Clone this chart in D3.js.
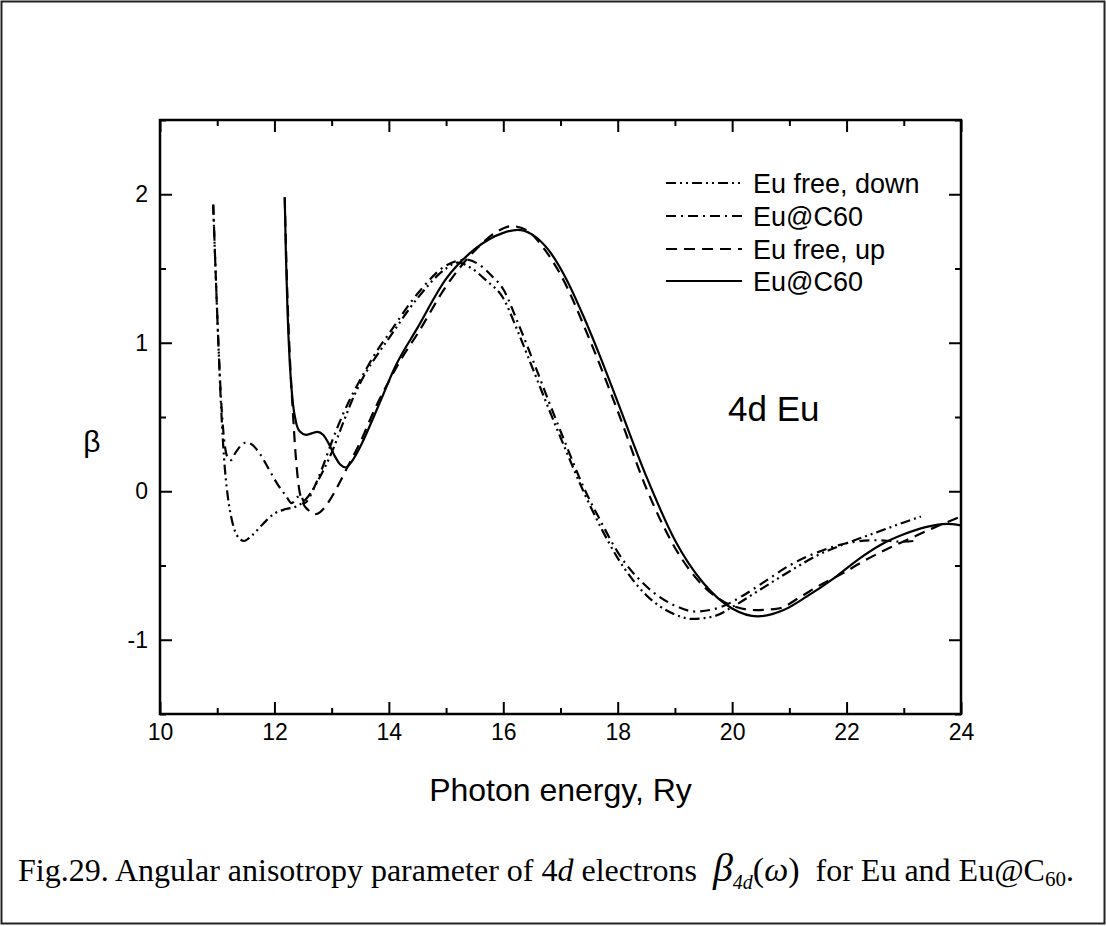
<!DOCTYPE html>
<html><head><meta charset="utf-8">
<script src="https://cdn.jsdelivr.net/npm/d3@7"></script>
<style>body{margin:0;background:#fff} svg{display:block}</style>
</head><body><svg id="c" width="1106" height="926"></svg>
<script>
// ---------- data ----------
const xMajorTicks = [10, 12, 14, 16, 18, 20, 22, 24];
const xMinorTicks = [11, 13, 15, 17, 19, 21, 23];
const yMajorTicks = [-1, 0, 1, 2];
const yMinorTicks = [-1.5, -0.5, 0.5, 1.5, 2.5];
const seriesNames = ["Eu free, down", "Eu@C60", "Eu free, up", "Eu@C60"];

// Eu free, down (dash-dot-dot)
const euFreeDown = [[10.93,1.93],[10.97,1.5],[11.02,1.0],[11.07,0.55],[11.12,0.22],[11.18,-0.02],[11.26,-0.2],[11.35,-0.3],[11.47,-0.335],[11.6,-0.3],[11.8,-0.22],[12.0,-0.15],[12.2,-0.12],[12.4,-0.1],[12.6,-0.03],[12.8,0.1],[13.0,0.26],[13.2,0.46],[13.4,0.65],[13.6,0.8],[13.8,0.92],[14.0,1.03],[14.5,1.3],[15.0,1.5],[15.2,1.54],[15.45,1.5],[15.7,1.42],[16.0,1.3],[16.25,1.08],[16.5,0.84],[16.8,0.55],[17.1,0.27],[17.4,0.0],[17.7,-0.24],[18.0,-0.45],[18.5,-0.7],[19.0,-0.83],[19.3,-0.86],[19.7,-0.84],[20.0,-0.78],[20.5,-0.66],[21.0,-0.54],[21.5,-0.43],[22.0,-0.35],[22.5,-0.28],[23.0,-0.21],[23.3,-0.17]];
// Eu@C60 (dash-dot)
const euC60a = [[10.93,1.93],[10.97,1.5],[11.02,1.0],[11.07,0.6],[11.12,0.35],[11.18,0.23],[11.24,0.21],[11.32,0.26],[11.42,0.31],[11.52,0.33],[11.62,0.31],[11.75,0.25],[11.9,0.15],[12.05,0.05],[12.2,-0.03],[12.3,-0.08],[12.4,-0.04],[12.46,-0.03],[12.53,-0.08],[12.6,-0.05],[12.7,0.03],[12.85,0.17],[13.0,0.33],[13.2,0.52],[13.4,0.68],[13.6,0.82],[13.8,0.95],[14.0,1.06],[14.5,1.33],[15.0,1.52],[15.35,1.56],[15.6,1.52],[15.8,1.45],[16.0,1.36],[16.25,1.14],[16.5,0.9],[16.8,0.6],[17.1,0.31],[17.4,0.03],[17.7,-0.2],[18.0,-0.41],[18.5,-0.64],[19.0,-0.77],[19.35,-0.81],[19.8,-0.78],[20.2,-0.7],[20.6,-0.6],[21.0,-0.5],[21.5,-0.41],[22.0,-0.35],[22.5,-0.33],[23.0,-0.34],[23.25,-0.33]];
// Eu free, up (dashed)
const euFreeUp = [[12.18,1.98],[12.22,1.4],[12.27,0.9],[12.32,0.55],[12.37,0.25],[12.43,0.02],[12.5,-0.08],[12.6,-0.13],[12.7,-0.155],[12.8,-0.14],[12.95,-0.07],[13.1,0.03],[13.3,0.18],[13.5,0.33],[13.75,0.55],[14.0,0.74],[14.2,0.88],[14.5,1.06],[15.0,1.38],[15.5,1.62],[15.9,1.75],[16.15,1.785],[16.4,1.76],[16.7,1.64],[17.0,1.46],[17.5,1.03],[18.0,0.54],[18.5,0.02],[19.0,-0.38],[19.5,-0.64],[20.0,-0.77],[20.4,-0.8],[20.8,-0.79],[21.2,-0.71],[21.5,-0.64],[21.9,-0.56],[22.3,-0.47],[22.7,-0.39],[23.1,-0.32],[23.5,-0.25],[24.0,-0.17]];
// Eu@C60 (solid)
const euC60b = [[12.18,1.98],[12.2,1.6],[12.23,1.2],[12.27,0.85],[12.32,0.6],[12.38,0.46],[12.45,0.4],[12.55,0.38],[12.65,0.39],[12.75,0.4],[12.85,0.38],[12.95,0.32],[13.05,0.24],[13.15,0.18],[13.25,0.16],[13.35,0.2],[13.5,0.3],[13.7,0.47],[13.9,0.65],[14.1,0.83],[14.5,1.1],[15.0,1.43],[15.5,1.63],[16.0,1.74],[16.25,1.76],[16.5,1.73],[16.8,1.62],[17.1,1.43],[17.4,1.18],[17.7,0.9],[18.0,0.6],[18.5,0.1],[19.0,-0.33],[19.5,-0.62],[20.0,-0.79],[20.45,-0.843],[20.9,-0.8],[21.3,-0.71],[21.8,-0.58],[22.2,-0.46],[22.6,-0.36],[23.0,-0.29],[23.4,-0.24],[23.75,-0.22],[24.0,-0.23]];

const seriesData = [euFreeDown, euC60a, euFreeUp, euC60b];
const seriesDash = ["10,4,2,4,2,4", "10,5,2,5", "11,7", null];

// ---------- drawing ----------
const svg = d3.select("#c");
const W = 1106, H = 926;
const L = 160, R = 961, T = 120, B = 714;
const x = d3.scaleLinear().domain([10, 24]).range([L, R]);
const y = d3.scaleLinear().domain([-1.5, 2.5]).range([B, T]);
const font = "'Liberation Sans', Arial, Helvetica, sans-serif";

svg.append("rect").attr("x", 1.5).attr("y", 1.5).attr("width", W - 3).attr("height", H - 4)
  .attr("fill", "none").attr("stroke", "#222").attr("stroke-width", 2);

function styleAxis(g, w) {
  g.select(".domain").remove();
  g.selectAll(".tick line").attr("stroke", "#000").attr("stroke-width", w);
  g.selectAll(".tick text").attr("fill", "#000").style("font-family", font).style("font-size", "23px");
}
const fmt = d => String(d);

// bottom
svg.append("g").attr("transform", `translate(0,${B})`)
  .call(d3.axisBottom(x).tickValues(xMajorTicks).tickSize(-12).tickPadding(10).tickFormat(fmt))
  .call(g => styleAxis(g, 2));
svg.append("g").attr("transform", `translate(0,${B})`)
  .call(d3.axisBottom(x).tickValues(xMinorTicks).tickSize(-6).tickFormat(""))
  .call(g => styleAxis(g, 2));
// top
svg.append("g").attr("transform", `translate(0,${T})`)
  .call(d3.axisTop(x).tickValues(xMajorTicks).tickSize(-12).tickFormat(""))
  .call(g => styleAxis(g, 2));
svg.append("g").attr("transform", `translate(0,${T})`)
  .call(d3.axisTop(x).tickValues(xMinorTicks).tickSize(-6).tickFormat(""))
  .call(g => styleAxis(g, 2));
// left
svg.append("g").attr("transform", `translate(${L},0)`)
  .call(d3.axisLeft(y).tickValues(yMajorTicks).tickSize(-12).tickPadding(12).tickFormat(fmt))
  .call(g => styleAxis(g, 2));
svg.append("g").attr("transform", `translate(${L},0)`)
  .call(d3.axisLeft(y).tickValues(yMinorTicks).tickSize(-6).tickFormat(""))
  .call(g => styleAxis(g, 2));
// right
svg.append("g").attr("transform", `translate(${R},0)`)
  .call(d3.axisRight(y).tickValues(yMajorTicks).tickSize(-12).tickFormat(""))
  .call(g => styleAxis(g, 2));
svg.append("g").attr("transform", `translate(${R},0)`)
  .call(d3.axisRight(y).tickValues(yMinorTicks).tickSize(-6).tickFormat(""))
  .call(g => styleAxis(g, 2));

svg.append("rect").attr("x", L).attr("y", T).attr("width", R - L).attr("height", B - T)
  .attr("fill", "none").attr("stroke", "#000").attr("stroke-width", 2.5);

// curves
const line = d3.line().x(d => x(d[0])).y(d => y(d[1])).curve(d3.curveMonotoneX);
svg.append("clipPath").attr("id", "pc").append("rect")
  .attr("x", L).attr("y", T).attr("width", R - L).attr("height", B - T);
seriesData.forEach((s, i) => {
  svg.append("path").datum(s).attr("d", line).attr("fill", "none")
    .attr("stroke", "#000").attr("stroke-width", 2.2)
    .attr("stroke-dasharray", seriesDash[i]).attr("clip-path", "url(#pc)");
});

// legend
const legY = [183, 216, 249, 281];
seriesNames.forEach((n, i) => {
  svg.append("line").attr("x1", 666).attr("x2", 742).attr("y1", legY[i]).attr("y2", legY[i])
    .attr("stroke", "#000").attr("stroke-width", 2.2).attr("stroke-dasharray", seriesDash[i]);
  svg.append("text").attr("x", 753).attr("y", legY[i]).attr("dy", "0.36em")
    .style("font-family", font).style("font-size", "27px").text(n);
});

// labels
svg.append("text").attr("x", 728).attr("y", 421).style("font-family", font).style("font-size", "35px").text("4d Eu");
svg.append("text").attr("x", 92).attr("y", 452).attr("text-anchor", "middle")
  .style("font-family", font).style("font-size", "30px").text("β");
svg.append("text").attr("x", (L + R) / 2).attr("y", 801).attr("text-anchor", "middle")
  .style("font-family", font).style("font-size", "32px").text("Photon energy, Ry");

// caption
const serif = "'Liberation Serif', 'Times New Roman', serif";
const cap = svg.append("text").attr("x", 18).attr("y", 881).style("font-family", serif)
  .style("font-size", "32px").style("white-space", "pre");
cap.append("tspan").text("Fig.29. Angular anisotropy parameter of 4");
cap.append("tspan").style("font-style", "italic").text("d");
cap.append("tspan").text(" electrons  ");
cap.append("tspan").style("font-style", "italic").style("font-size", "40px").text("β");
cap.append("tspan").style("font-style", "italic").style("font-size", "20px").attr("dy", 8).text("4d");
cap.append("tspan").attr("dy", -8).style("font-size", "34px").text("(");
cap.append("tspan").style("font-style", "italic").style("font-size", "34px").text("ω");
cap.append("tspan").style("font-size", "34px").text(")");
cap.append("tspan").text("  for Eu and Eu@C");
cap.append("tspan").style("font-size", "21px").attr("dy", 5).text("60");
cap.append("tspan").attr("dy", -5).text(".");
</script></body></html>
